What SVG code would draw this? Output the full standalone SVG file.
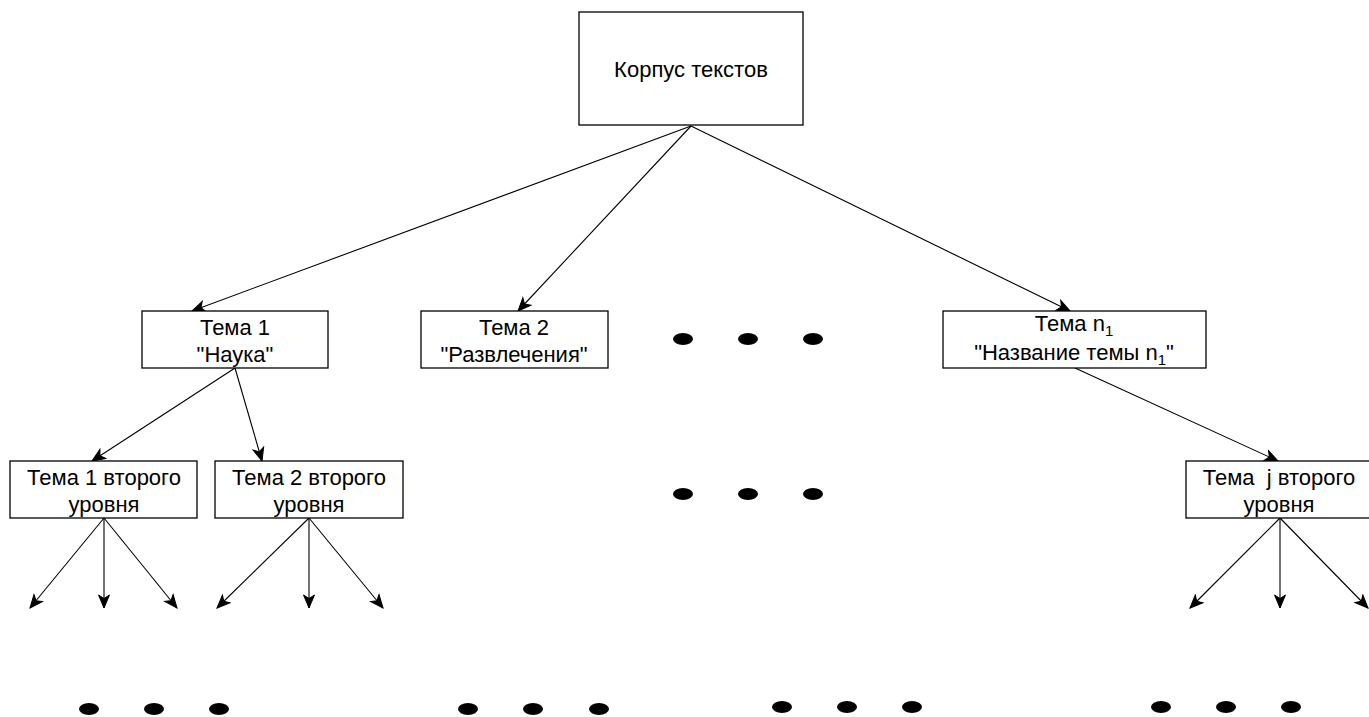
<svg xmlns="http://www.w3.org/2000/svg" width="1369" height="717" viewBox="0 0 1369 717">
<style>
.box{fill:#fff;stroke:#000;stroke-width:1.3}
.t{font-family:"Liberation Sans",Arial,sans-serif;font-size:22px;fill:#000;text-anchor:middle}
.e{stroke:#000;stroke-width:1.1;fill:none;marker-end:url(#arr)}
.dot{fill:#000}
</style>
<defs>
<marker id="arr" markerUnits="userSpaceOnUse" markerWidth="16" markerHeight="14" refX="14" refY="7" orient="auto">
<path d="M1,1.5 L14,7 L1,12.5 L4.5,7 Z" fill="#000" stroke="#000" stroke-width="1"/>
</marker>
</defs>
<g id="connectors">
<line class="e" x1="691" y1="126" x2="192" y2="311"/>
<line class="e" x1="691" y1="126" x2="518" y2="311"/>
<line class="e" x1="691" y1="126" x2="1070" y2="311"/>
<line class="e" x1="235" y1="368" x2="92" y2="461"/>
<line class="e" x1="235" y1="368" x2="262" y2="461"/>
<line class="e" x1="1075" y1="368" x2="1278" y2="461"/>
<line class="e" x1="104" y1="518" x2="30" y2="608"/>
<line class="e" x1="104" y1="518" x2="104" y2="608"/>
<line class="e" x1="104" y1="518" x2="177" y2="608"/>
<line class="e" x1="309" y1="518" x2="217" y2="608"/>
<line class="e" x1="309" y1="518" x2="309" y2="608"/>
<line class="e" x1="309" y1="518" x2="383" y2="608"/>
<line class="e" x1="1280" y1="518" x2="1190" y2="608"/>
<line class="e" x1="1280" y1="518" x2="1280" y2="608"/>
<line class="e" x1="1280" y1="518" x2="1368" y2="608"/>
</g>
<g id="root">
<rect class="box" x="579" y="12" width="224" height="113"/>
<text class="t" x="691" y="77">Корпус текстов</text>
</g>
<g id="tema1">
<rect class="box" x="142" y="311" width="186" height="57"/>
<text class="t" x="235" y="335">Тема 1</text>
<text class="t" x="235" y="362">"Наука"</text>
</g>
<g id="tema2">
<rect class="box" x="421" y="311" width="187" height="57"/>
<text class="t" x="514" y="335">Тема 2</text>
<text class="t" x="514" y="362">"Развлечения"</text>
</g>
<g id="teman1">
<rect class="box" x="943" y="311" width="263" height="57"/>
<text class="t" x="1074" y="331">Тема n<tspan font-size="15" dy="5">1</tspan></text>
<text class="t" x="1074" y="360">"Название темы n<tspan font-size="15" dy="5">1</tspan><tspan dy="-5">"</tspan></text>
</g>
<g id="sub1">
<rect class="box" x="10" y="461" width="187" height="57"/>
<text class="t" x="104" y="485">Тема 1 второго</text>
<text class="t" x="104" y="512">уровня</text>
</g>
<g id="sub2">
<rect class="box" x="215" y="461" width="188" height="57"/>
<text class="t" x="309" y="485">Тема 2 второго</text>
<text class="t" x="309" y="512">уровня</text>
</g>
<g id="subj">
<rect class="box" x="1186" y="461" width="187" height="57"/>
<text class="t" x="1279" y="485" xml:space="preserve">Тема  j второго</text>
<text class="t" x="1279" y="512">уровня</text>
</g>
<g id="dots">
<ellipse class="dot" cx="683" cy="339" rx="10" ry="6"/>
<ellipse class="dot" cx="748" cy="339" rx="10" ry="6"/>
<ellipse class="dot" cx="813" cy="339" rx="10" ry="6"/>
<ellipse class="dot" cx="683" cy="494" rx="10" ry="6"/>
<ellipse class="dot" cx="748" cy="494" rx="10" ry="6"/>
<ellipse class="dot" cx="813" cy="494" rx="10" ry="6"/>
<ellipse class="dot" cx="89" cy="709" rx="10" ry="6"/>
<ellipse class="dot" cx="154" cy="709" rx="10" ry="6"/>
<ellipse class="dot" cx="219" cy="709" rx="10" ry="6"/>
<ellipse class="dot" cx="468" cy="709" rx="10" ry="6"/>
<ellipse class="dot" cx="533" cy="709" rx="10" ry="6"/>
<ellipse class="dot" cx="599" cy="709" rx="10" ry="6"/>
<ellipse class="dot" cx="782" cy="707" rx="10" ry="6"/>
<ellipse class="dot" cx="847" cy="707" rx="10" ry="6"/>
<ellipse class="dot" cx="912" cy="707" rx="10" ry="6"/>
<ellipse class="dot" cx="1161" cy="707" rx="10" ry="6"/>
<ellipse class="dot" cx="1226" cy="707" rx="10" ry="6"/>
<ellipse class="dot" cx="1291" cy="707" rx="10" ry="6"/>
</g>
</svg>
